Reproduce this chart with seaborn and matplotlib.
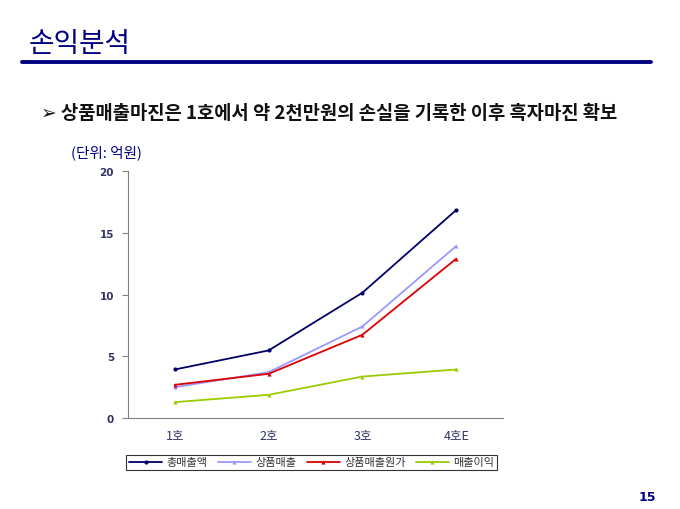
import numpy as np
import pandas as pd
import matplotlib
matplotlib.use("Agg")
import matplotlib.pyplot as plt
import seaborn as sns

# 데이터 (단위: 억원)
CATEGORIES = ["1호", "2호", "3호", "4호E"]
SERIES = ["총매출액", "상품매출", "상품매출원가", "매출이익"]
TOTAL_SALES = [3.94, 5.48, 10.15, 16.84]
GOODS_SALES = [2.51, 3.72, 7.42, 13.93]
GOODS_COST = [2.70, 3.59, 6.75, 12.90]
GROSS_PROFIT = [1.30, 1.89, 3.37, 3.94]
Y_TICKS = [0, 5, 10, 15, 20]

COLORS = ["#000066", "#9999FF", "#DD0000", "#99CC00"]
NAVY = "#000080"

sns.set_theme(style="white")
plt.rcParams["font.family"] = ["Noto Sans CJK KR", "DejaVu Sans"]

df = pd.DataFrame({
    "구분": CATEGORIES * 4,
    "x": list(range(len(CATEGORIES))) * 4,
    "값": TOTAL_SALES + GOODS_SALES + GOODS_COST + GROSS_PROFIT,
    "항목": [s for s in SERIES for _ in CATEGORIES],
})

fig = plt.figure(figsize=(6.8, 5.1), dpi=100)
ax = fig.add_axes([0.188, 0.178, 0.552, 0.485])

sns.lineplot(data=df, x="x", y="값", hue="항목", hue_order=SERIES,
             palette=COLORS, style="항목", markers=["o", "^", "^", "^"],
             dashes=False, markersize=3, linewidth=1.3, ax=ax,
             markeredgewidth=0)

ax.set_xlim(-0.5, len(CATEGORIES) - 0.5)
ax.set_ylim(0, 20)
ax.set_yticks(Y_TICKS)
ax.set_yticklabels([str(v) for v in Y_TICKS], fontsize=7.5, fontweight="bold",
                   color="#333366", family="DejaVu Sans")
ax.set_xticks(range(len(CATEGORIES)))
ax.set_xticklabels(CATEGORIES, fontsize=9, color="#333366")
ax.set_xticks(np.arange(-0.5, len(CATEGORIES)), minor=True)
ax.tick_params(axis="x", which="major", length=0, pad=8)
ax.tick_params(axis="x", which="minor", length=4, color="#808080", width=0.8)
ax.tick_params(axis="y", which="major", length=4, color="#808080", width=0.8,
               left=True, pad=6)
ax.set_xlabel("")
ax.set_ylabel("")
for side in ["top", "right"]:
    ax.spines[side].set_visible(False)
for side in ["left", "bottom"]:
    ax.spines[side].set_color("#808080")
    ax.spines[side].set_linewidth(0.8)

leg = ax.legend(loc="upper center", bbox_to_anchor=(0.49, -0.125), ncol=4,
                fontsize=8, frameon=True, fancybox=False, handlelength=3,
                columnspacing=0.9, handletextpad=0.4, borderpad=0.25,
                labelcolor="#333333")
leg.get_frame().set_edgecolor("black")
leg.get_frame().set_linewidth(0.8)

# 제목과 본문
fig.text(0.042, 0.914, "손익분석", fontsize=20, color=NAVY, va="center")
fig.add_artist(plt.Line2D([0.032, 0.958], [0.876, 0.876], color=NAVY,
                          linewidth=2.8, transform=fig.transFigure))
fig.text(0.06, 0.778, "➢ 상품매출마진은 1호에서 약 2천만원의 손실을 기록한 이후 흑자마진 확보",
         fontsize=13.5, fontweight="bold", color="#111111", va="center")
fig.text(0.105, 0.700, "(단위: 억원)", fontsize=10.5, color=NAVY, va="center")
fig.text(0.965, 0.012, "15", fontsize=9, fontweight="bold", color=NAVY,
         ha="right", va="bottom", family="DejaVu Sans")

fig.savefig("out.png", dpi=100)
